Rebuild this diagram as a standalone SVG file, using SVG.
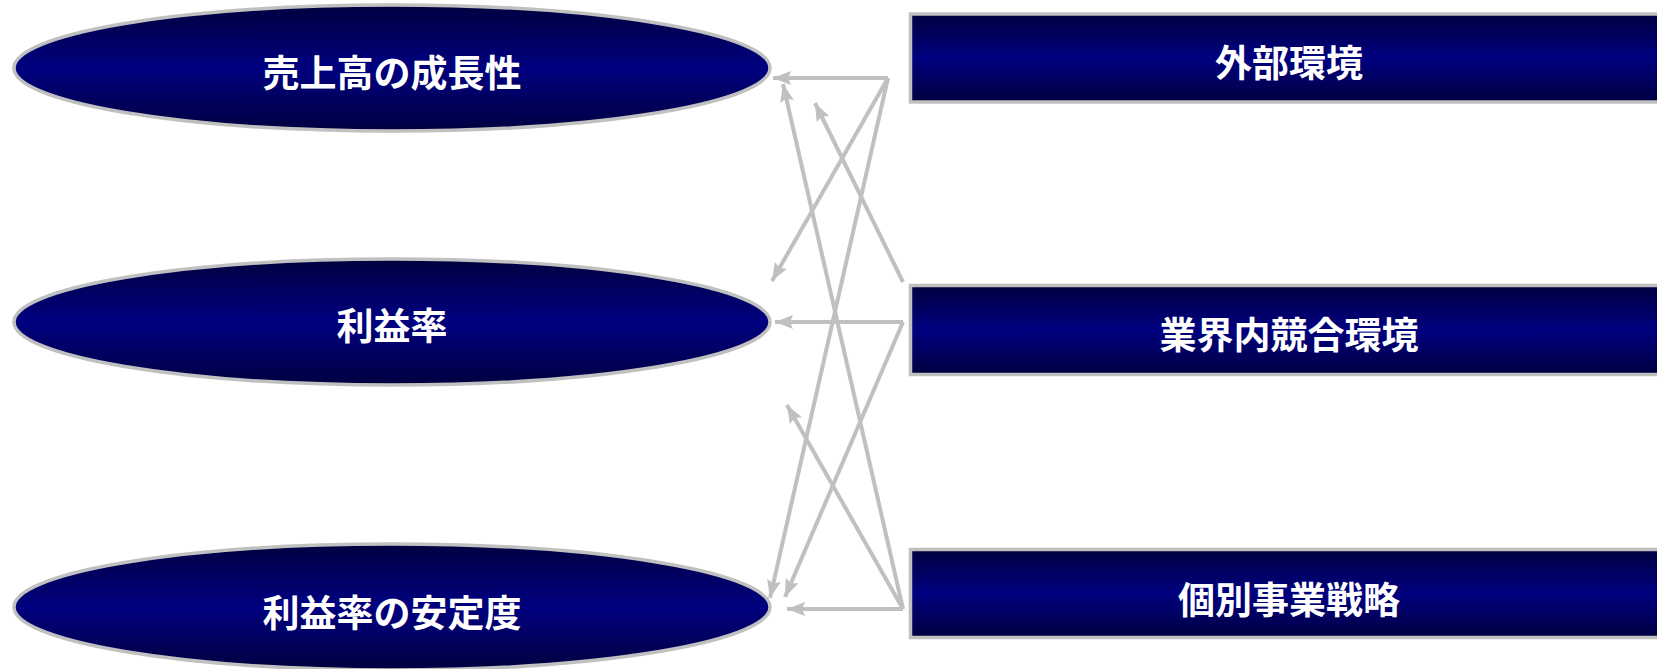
<svg xmlns="http://www.w3.org/2000/svg" width="1657" height="669" viewBox="0 0 1657 669">
<style>
.node{stroke:#c0c0c0;stroke-width:3.5}
.ell{fill:url(#gE)}
.box{fill:url(#gR)}
.lbl{font-family:"Noto Sans CJK JP","Noto Sans CJK SC",sans-serif;font-weight:bold;font-size:37px;fill:#ffffff;text-anchor:middle;dominant-baseline:central}
.conn{stroke:#c0c0c0;stroke-width:4;fill:none;marker-end:url(#arr)}
</style>
<defs>
<linearGradient id="gE" x1="0" y1="0" x2="0" y2="1">
<stop offset="0" stop-color="#000040"/>
<stop offset="0.5" stop-color="#000080"/>
<stop offset="1" stop-color="#000040"/>
</linearGradient>
<linearGradient id="gR" x1="0" y1="0" x2="0" y2="1">
<stop offset="0" stop-color="#000040"/>
<stop offset="0.5" stop-color="#000080"/>
<stop offset="1" stop-color="#000040"/>
</linearGradient>
<marker id="arr" markerUnits="userSpaceOnUse" markerWidth="20" markerHeight="16" refX="18" refY="7" orient="auto">
<path d="M0,0 L18,7 L0,14 L3,7 z" fill="#c0c0c0"/>
</marker>
</defs>
<g id="connectors">
<line class="conn" x1="888" y1="78" x2="773" y2="78"/>
<line class="conn" x1="888" y1="78" x2="772" y2="281"/>
<line class="conn" x1="888" y1="78" x2="770" y2="598"/>
<line class="conn" x1="903" y1="282" x2="815" y2="103"/>
<line class="conn" x1="903" y1="322" x2="775" y2="322"/>
<line class="conn" x1="903" y1="322" x2="785" y2="597"/>
<line class="conn" x1="903" y1="609" x2="787" y2="609"/>
<line class="conn" x1="903" y1="609" x2="787" y2="405"/>
<line class="conn" x1="903" y1="609" x2="783" y2="84"/>
</g>
<g id="node-uriage">
<ellipse class="node ell" cx="392" cy="68" rx="378" ry="63"/>
<text class="lbl" x="392" y="71">売上高の成長性</text>
</g>
<g id="node-riekiritsu">
<ellipse class="node ell" cx="392" cy="322" rx="378" ry="63"/>
<text class="lbl" x="392" y="324">利益率</text>
</g>
<g id="node-anteido">
<ellipse class="node ell" cx="392" cy="607" rx="378" ry="63"/>
<text class="lbl" x="392" y="611">利益率の安定度</text>
</g>
<g id="node-gaibu">
<rect class="node box" x="910.5" y="14" width="760" height="88"/>
<text class="lbl" x="1289" y="61">外部環境</text>
</g>
<g id="node-gyokai">
<rect class="node box" x="910.5" y="285.5" width="760" height="89"/>
<text class="lbl" x="1289" y="333">業界内競合環境</text>
</g>
<g id="node-kobetsu">
<rect class="node box" x="910.5" y="549.5" width="760" height="88"/>
<text class="lbl" x="1289" y="598">個別事業戦略</text>
</g>
</svg>
